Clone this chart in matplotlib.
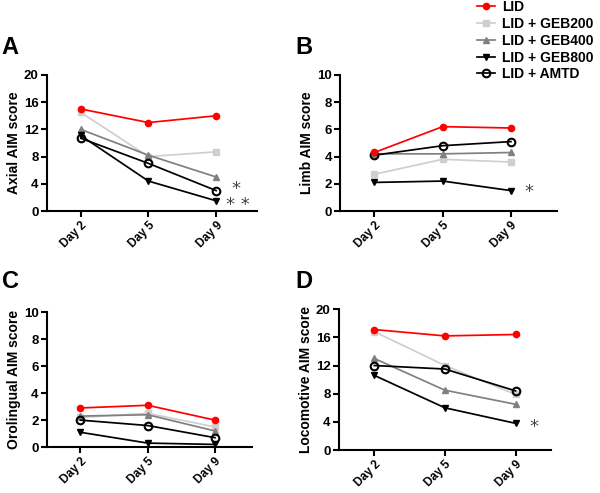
import matplotlib
matplotlib.use("Agg")
import matplotlib.pyplot as plt

plt.rcParams['font.family'] = ['Liberation Sans', 'DejaVu Sans']
plt.rcParams['font.weight'] = 'bold'

days = ["Day 2", "Day 5", "Day 9"]
groups = ["LID", "LID + GEB200", "LID + GEB400", "LID + GEB800", "LID + AMTD"]

axial = {
    "LID": [15.0, 13.0, 14.0],
    "LID + GEB200": [14.5, 8.0, 8.7],
    "LID + GEB400": [12.0, 8.2, 5.0],
    "LID + GEB800": [11.1, 4.4, 1.5],
    "LID + AMTD": [10.7, 7.0, 3.0],
}
limb = {
    "LID": [4.3, 6.2, 6.1],
    "LID + GEB200": [2.7, 3.8, 3.6],
    "LID + GEB400": [4.2, 4.2, 4.3],
    "LID + GEB800": [2.1, 2.2, 1.5],
    "LID + AMTD": [4.1, 4.8, 5.1],
}
oroling = {
    "LID": [2.9, 3.1, 2.0],
    "LID + GEB200": [2.2, 2.5, 1.5],
    "LID + GEB400": [2.3, 2.4, 1.2],
    "LID + GEB800": [1.1, 0.3, 0.2],
    "LID + AMTD": [2.0, 1.6, 0.7],
}
locom = {
    "LID": [17.1, 16.2, 16.4],
    "LID + GEB200": [16.8, 12.0, 7.9],
    "LID + GEB400": [13.0, 8.5, 6.5],
    "LID + GEB800": [10.6, 6.0, 3.8],
    "LID + AMTD": [12.0, 11.5, 8.4],
}

styles = {
    "LID": dict(color="#ff0000", marker="o", mfc="#ff0000", mec="#ff0000", ms=4.5),
    "LID + GEB200": dict(color="#cfcfcf", marker="s", mfc="#cfcfcf", mec="#cfcfcf", ms=4.5),
    "LID + GEB400": dict(color="#808080", marker="^", mfc="#808080", mec="#808080", ms=5),
    "LID + GEB800": dict(color="#000000", marker="v", mfc="#000000", mec="#000000", ms=5),
    "LID + AMTD": dict(color="#000000", marker="o", mfc="none", mec="#000000", ms=5.5, mew=1.5),
}
order = ["LID + GEB200", "LID + GEB400", "LID + AMTD", "LID + GEB800", "LID"]

fig = plt.figure(figsize=(6.0, 4.93), dpi=100)

panels = [
    ("A", axial, "Axial AIM score", 20, [0, 4, 8, 12, 16, 20], [0.078, 0.572, 0.350, 0.276], 2.6,
     [(2.22, 3.3, "*"), (2.15, 0.9, "* *")]),
    ("B", limb, "Limb AIM score", 10, [0, 2, 4, 6, 8, 10], [0.567, 0.572, 0.362, 0.276], 2.68,
     [(2.2, 1.4, "*")]),
    ("C", oroling, "Orolingual AIM score", 10, [0, 2, 4, 6, 8, 10], [0.078, 0.093, 0.342, 0.274], 2.55,
     []),
    ("D", locom, "Locomotive AIM score", 20, [0, 4, 8, 12, 16, 20], [0.565, 0.087, 0.353, 0.286], 2.5,
     [(2.2, 3.3, "*")]),
]

letter_pos = {"A": (0.003, 0.88), "B": (0.493, 0.88), "C": (0.003, 0.405), "D": (0.493, 0.405)}

handles = {}
for letter, data, ylabel, ymax, yt, rect, xr, stars in panels:
    ax = fig.add_axes(rect)
    x = list(range(len(days)))
    for g in order:
        st = dict(styles[g])
        (h,) = ax.plot(x, data[g], lw=1.25, label=g, **st)
        handles[g] = h
    ax.set_xlim(-0.5, xr)
    ax.set_ylim(0, ymax)
    ax.set_yticks(yt)
    ax.set_xticks(x)
    ax.set_xticklabels(days, rotation=45, ha="right", rotation_mode="anchor", fontsize=8.5, fontweight="bold")
    for lab in ax.get_yticklabels():
        lab.set_fontsize(9.5)
        lab.set_fontweight("bold")
    ax.set_ylabel(ylabel, fontsize=10, fontweight="bold", labelpad=2)
    for s in ["top", "right"]:
        ax.spines[s].set_visible(False)
    for s in ["left", "bottom"]:
        ax.spines[s].set_linewidth(1.5)
    ax.tick_params(width=1.5, length=4, pad=2)
    for sx, sy, txt in stars:
        ax.text(sx, sy, txt, fontsize=13, color="#444444", fontweight="normal", va="center", ha="left",
                family="DejaVu Sans")
    fig.text(letter_pos[letter][0], letter_pos[letter][1], letter, fontsize=17, fontweight="bold", va="bottom")

leg = fig.legend([handles[g] for g in groups], groups, loc="upper right", bbox_to_anchor=(1.01, 1.025),
                 frameon=False, handlelength=1.3, handletextpad=0.5, labelspacing=0.2,
                 prop={"weight": "bold", "size": 10})

fig.savefig("out.png", dpi=100)
